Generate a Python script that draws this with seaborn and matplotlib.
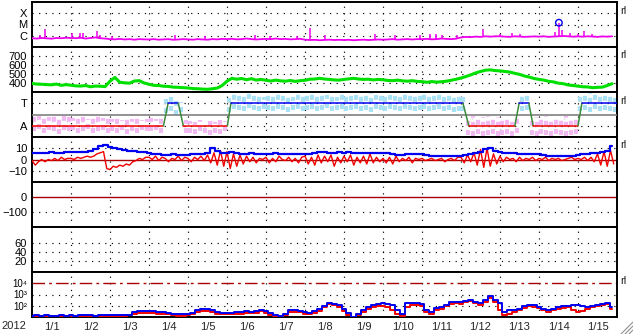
import numpy as np
import pandas as pd
import matplotlib
matplotlib.use("Agg")
import matplotlib.pyplot as plt
from matplotlib.lines import Line2D
import seaborn as sns

sns.set_style("white")
plt.rcParams['font.family'] = ['Liberation Sans', 'DejaVu Sans']
plt.rcParams['mathtext.default'] = 'regular'

# ---------------- data ----------------
day_labels = ["1/1", "1/2", "1/3", "1/4", "1/5", "1/6", "1/7", "1/8", "1/9", "1/10",
              "1/11", "1/12", "1/13", "1/14", "1/15"]
year_label = "2012"
flux_tick_labels = ["10\u00b2", "10\u00b3", "10\u2074"]

# X-ray flux, log10 W/m^2, 3-hourly background
xray_log = [-6.22, -6.25, -6.2, -6.23, -6.26, -6.2, -6.22, -6.18,
            -6.2, -6.22, -6.18, -6.25, -6.2, -6.15, -6.22, -6.25,
            -6.3, -6.32, -6.28, -6.33, -6.3, -6.35, -6.3, -6.32,
            -6.33, -6.3, -6.35, -6.32, -6.3, -6.36, -6.33, -6.3,
            -6.32, -6.35, -6.3, -6.33, -6.35, -6.3, -6.32, -6.28,
            -6.3, -6.27, -6.32, -6.3, -6.25, -6.3, -6.33, -6.3,
            -6.28, -6.3, -6.25, -6.3, -6.28, -6.32, -6.3, -6.27,
            -6.35, -6.38, -6.36, -6.4, -6.37, -6.35, -6.38, -6.36,
            -6.38, -6.36, -6.4, -6.37, -6.35, -6.38, -6.36, -6.33,
            -6.35, -6.33, -6.3, -6.35, -6.32, -6.3, -6.33, -6.3,
            -6.3, -6.28, -6.32, -6.3, -6.25, -6.28, -6.3, -6.26,
            -6.15, -6.1, -6.12, -6.08, -6.1, -6.05, -6.08, -6.05,
            -6.05, -6.08, -6.1, -6.05, -6.07, -6.1, -6.08, -6.06,
            -6.08, -6.05, -6.1, -6.07, -6.05, -6.02, -6.05, -6.08,
            -6.06, -6.08, -6.05, -6.07, -6.1, -6.06, -6.08, -6.05]
# short X-ray bursts: time (days), log10 peak, log10 foot
spike_t = [0.2, 0.33, 1.02, 1.23, 1.3, 1.66, 1.74, 2.05, 3.67, 4.44, 5.72, 6.1, 6.8,
           7.13, 7.5, 8.8, 9.3, 9.95, 10.2, 10.35, 10.5, 10.9, 11.56, 12.0, 12.31,
           12.5, 13.4, 13.51, 13.6, 13.8, 14.0, 14.15, 14.35]
spike_peak = [-5.93, -5.4, -5.78, -5.73, -5.76, -5.58, -5.93, -6.0, -5.95, -6.0, -5.95,
              -5.98, -6.0, -5.3, -5.95, -5.8, -5.95, -5.93, -5.8, -5.85, -5.9, -5.95,
              -5.43, -5.85, -5.76, -5.85, -5.67, -4.84, -5.49, -5.73, -5.8, -5.6, -5.85]
spike_foot = [-6.22, -6.22, -6.2, -6.2, -6.2, -6.2, -6.2, -6.3, -6.3, -6.3, -6.3,
              -6.3, -6.3, -6.35, -6.35, -6.35, -6.35, -6.3, -6.3, -6.3, -6.3, -6.28,
              -6.1, -6.05, -6.1, -6.1, -6.07, -6.07, -6.07, -6.05, -6.05, -6.05, -6.05]
flare_t = [13.51]
flare_peak = [-4.84]

# solar wind speed km/s, 3-hourly
speed = [395, 388, 386, 382, 380, 388, 374, 382,
         375, 368, 366, 372, 358, 366, 364, 360,
         420, 462, 408, 402, 398, 422, 426, 400,
         386, 374, 372, 364, 362, 354, 352, 348,
         345, 338, 336, 332, 330, 336, 344, 372,
         420, 452, 442, 450, 436, 448, 432, 440,
         430, 422, 432, 424, 420, 428, 418, 426,
         430, 442, 444, 452, 444, 440, 434, 432,
         440, 446, 452, 444, 440, 442, 434, 440,
         436, 428, 426, 432, 424, 420, 426, 418,
         415, 408, 416, 410, 414, 420, 430, 442,
         455, 472, 490, 512, 528, 542, 546, 538,
         535, 528, 522, 508, 496, 478, 466, 450,
         440, 432, 418, 412, 398, 392, 378, 372,
         365, 358, 356, 348, 352, 354, 372, 392]

# IMF sector polarity: state line (A = -1, T = +1)
pol_t = [0, 3.37, 3.49, 3.75, 3.88, 5.01, 5.10, 11.05, 11.2, 12.38, 12.49, 12.74,
         12.85, 14.0, 14.10, 15.0]
pol_v = [-1, -1, 1, 1, -1, -1, 1, 1, -1, -1, 1, 1, -1, -1, 1, 1]
# scatter envelope of the measured angle, 3-hourly
cloud_hi = [-0.2, -0.1, -0.3, -0.2, 0.0, -0.3, -0.1, -0.2,
            -0.3, -0.1, -0.2, -0.4, -0.2, -0.1, -0.3, -0.2,
            -0.4, -0.3, -0.5, -0.2, -0.4, -0.3, -0.5, -0.4,
            -0.3, -0.4, -0.2, 1.4, 1.6, 1.3, 1.1, -0.5,
            -0.6, -0.7, -0.5, -0.8, -0.6, -0.7, -0.5, -0.6,
            1.5, 1.8, 1.9, 1.7, 2.0, 1.8, 1.9, 1.6,
            1.8, 1.7, 1.9, 2.0, 1.8, 1.6, 1.9, 1.8,
            1.7, 1.9, 1.8, 2.0, 1.7, 1.8, 1.6, 1.9,
            1.8, 1.9, 1.7, 1.8, 2.0, 1.9, 1.7, 1.8,
            1.9, 1.7, 1.8, 1.6, 1.9, 1.8, 2.0, 1.7,
            1.8, 1.9, 1.7, 1.8, 1.6, 1.9, 1.8, 1.7,
            1.6, -0.2, -0.1, -0.3, -0.2, -0.1, -0.3, -0.2,
            -0.4, -0.2, -0.3, -0.3, 1.8, 1.9, -0.3, -0.2,
            -0.4, -0.1, -0.3, -0.2, -0.3, -0.1, -0.2, -0.3,
            1.8, 1.9, 2.0, 1.8, 1.9, 1.7, 1.9, 1.8]
cloud_lo = [-1.5, -1.3, -1.6, -1.4, -1.5, -1.7, -1.4, -1.5,
            -1.4, -1.6, -1.5, -1.3, -1.6, -1.5, -1.4, -1.6,
            -1.5, -1.6, -1.4, -1.7, -1.5, -1.6, -1.4, -1.5,
            -1.5, -1.4, -1.6, 0.1, 0.3, 0.0, 0.2, -1.6,
            -1.6, -1.7, -1.5, -1.6, -1.8, -1.6, -1.7, -1.5,
            0.2, 0.5, 0.4, 0.3, 0.6, 0.4, 0.3, 0.5,
            0.4, 0.3, 0.5, 0.4, 0.2, 0.4, 0.5, 0.3,
            0.4, 0.5, 0.3, 0.4, 0.6, 0.3, 0.4, 0.5,
            0.3, 0.4, 0.5, 0.3, 0.4, 0.2, 0.5, 0.4,
            0.3, 0.5, 0.4, 0.3, 0.5, 0.4, 0.3, 0.4,
            0.5, 0.3, 0.4, 0.5, 0.3, 0.4, 0.2, 0.3,
            0.3, -1.8, -1.9, -1.7, -1.9, -1.8, -1.7, -1.9,
            -1.8, -1.7, -1.9, -1.6, 0.3, 0.4, -1.8, -1.9,
            -1.7, -1.8, -1.9, -1.7, -1.8, -1.9, -1.8, -1.7,
            0.3, 0.4, 0.2, 0.5, 0.3, 0.4, 0.3, 0.2]

# IMF Bz (2-hourly) and Bt (3-hourly), nT
bz = [-1, -5, -2, 0, -2, 0, -1, 1, -1, 2, 0, 1,
      1, 0, 2, 1, 2, 3, 2, 3, 5, 6, 7, -8,
      -9, -6, -7, -5, -6, -4, -5, -2, -1, 1, 0, 2,
      2, 0, 3, -1, 2, 1, -2, 1, 0, 3, -1, 2,
      1, -2, 2, 0, 3, -1, 4, -3, 6, -5, 8, -6,
      7, -8, 5, -6, 4, -4, 3, -2, 2, -3, 1, 0,
      2, -3, 1, -2, 3, 0, -1, 2, -2, 1, -3, 2,
      3, -4, 2, -5, 4, -3, 3, -2, 4, -6, 2, -3,
      3, -2, 4, -5, 2, -3, 3, -4, 5, -3, 2, -2,
      1, -3, 2, -4, 3, -2, 1, -1, 2, -3, 1, 0,
      1, -1, 0, 1, -1, 0, 1, -2, 0, 1, -1, 2,
      2, -3, 4, -2, 6, -5, 9, -7, 10, -6, 5, -4,
      3, -2, 2, 0, 1, -2, 2, -1, 1, 0, 2, -1,
      1, 0, 2, -1, 1, 0, 1, -1, 0, 1, 2, 0,
      1, 0, 2, -1, 2, -2, 5, -5, 7, -6, 8, -4]
bt = [5.5, 5.8, 6, 6.2, 6.4, 6.2, 6, 6.3,
      6.5, 6.8, 7, 7, 7.5, 9, 12, 13,
      11, 10, 9, 8.5, 8, 7.5, 7, 6.5,
      5.5, 5, 4.5, 4, 4, 4.5, 4, 4,
      4, 4.5, 4.5, 5, 6, 10, 8, 6,
      6, 7, 6, 5, 5, 5.5, 5, 5,
      5, 5, 5.5, 5, 4.5, 5, 5, 5,
      5, 5, 5.5, 6.5, 6.5, 6, 6, 6.5,
      6, 6.5, 6, 6, 5.5, 6, 6, 6,
      6, 5.5, 5, 4, 4, 4.5, 5, 5,
      4.5, 4, 3.5, 3, 3, 3.5, 3, 3.5,
      3.5, 4, 5, 6, 7, 9, 10, 8,
      6.5, 6, 5.5, 5.5, 5, 5, 5, 5,
      4.5, 4, 3.5, 3, 3, 3, 3, 3.5,
      4, 4.5, 5, 5.5, 6, 7, 8, 12]

# particle flux, log10, 3-hourly (blue and red channels)
flux_blue = [1.12, 1.15, 1.12, 1.15, 1.12, 1.12, 1.15, 1.12,
             1.15, 1.12, 1.15, 1.18, 1.15, 1.12, 1.15, 1.15,
             1.15, 1.15, 1.2, 1.15, 1.2, 1.45, 1.5, 1.5,
             1.5, 1.5, 1.45, 1.45, 1.4, 1.3, 1.25, 1.25,
             1.3, 1.4, 1.6, 1.7, 1.7, 1.6, 1.45, 1.4,
             1.4, 1.4, 1.45, 1.45, 1.5, 1.47, 1.55, 1.62,
             1.5, 1.36, 1.2, 1.09, 1.3, 1.62, 1.6, 1.56,
             1.45, 1.36, 1.5, 1.71, 2.0, 2.27, 2.2, 2.07,
             1.7, 1.38, 1.03, 1.3, 1.62, 1.85, 2.07, 2.2,
             2.27, 2.2, 2.07, 1.6, 1.3, 2.24, 2.24, 2.24,
             2.2, 1.6, 1.47, 1.8, 1.92, 2.1, 2.36, 2.36,
             2.33, 2.45, 2.51, 2.35, 2.22, 2.5, 2.87, 2.5,
             2.22, 1.47, 1.62, 1.65, 1.75, 1.95, 2.1, 2.05,
             1.92, 1.75, 1.62, 1.75, 1.92, 1.95, 2.0, 2.07,
             2.07, 1.95, 1.92, 2.0, 2.1, 2.2, 2.22, 1.9]
flux_red = [1.05, 1.08, 1.05, 1.05, 1.08, 1.05, 1.05, 1.05,
            1.05, 1.05, 1.08, 1.1, 1.08, 1.05, 1.08, 1.05,
            1.1, 1.1, 1.1, 1.1, 1.15, 1.3, 1.35, 1.35,
            1.35, 1.35, 1.3, 1.3, 1.25, 1.15, 1.1, 1.1,
            1.15, 1.25, 1.45, 1.55, 1.55, 1.45, 1.3, 1.25,
            1.25, 1.25, 1.3, 1.3, 1.35, 1.36, 1.4, 1.5,
            1.35, 1.2, 1.08, 1.03, 1.15, 1.45, 1.45, 1.42,
            1.3, 1.25, 1.35, 1.55, 1.85, 2.15, 2.05, 1.9,
            1.55, 1.2, 1.0, 1.15, 1.45, 1.7, 1.9, 2.0,
            1.95, 1.9, 1.6, 1.3, 1.1, 1.9, 2.1, 2.1,
            2.0, 1.45, 1.3, 1.6, 1.75, 1.95, 2.2, 2.25,
            2.2, 2.3, 2.4, 2.25, 2.1, 2.35, 2.66, 2.3,
            1.6, 1.15, 1.3, 1.45, 1.6, 1.8, 1.95, 1.9,
            1.8, 1.6, 1.45, 1.6, 1.75, 1.8, 1.85, 1.6,
            1.45, 1.5, 1.75, 1.85, 1.95, 2.1, 2.15, 1.7]

# ---------------- figure ----------------
W, H = 633, 334
fig = plt.figure(figsize=(W / 100, H / 100), dpi=100)
fig.patch.set_facecolor("white")

t3 = np.arange(len(speed)) / 8.0
t2 = np.arange(len(bz)) / 12.0

MAG = "#ee00ee"
GRN = "#00e000"
BLU = "#0000f0"
RED = "#f00000"
DRED = "#a80000"
FS = 8
DOT = (0, (1, 4.6))

left = 32 / W
width = 585 / W
tops = [2, 47, 92, 137, 182, 227, 272]
axes = []
for top in tops:
    ax = fig.add_axes([left, 1 - (top + 45) / H, width, 45 / H])
    ax.set_xlim(0, 15)
    ax.set_facecolor("white")
    for s in ax.spines.values():
        s.set_color("black")
        s.set_linewidth(1.4)
    ax.tick_params(axis="both", length=0, labelsize=FS, pad=3.5, colors="black")
    ax.set_xticks(np.arange(1, 15))
    ax.set_xticklabels([])
    for d in range(1, 15):
        ax.axvline(d, color="black", lw=0.85, ls=DOT, zorder=1)
    axes.append(ax)


def hdot(ax, y):
    ax.axhline(y, color="black", lw=0.85, ls=DOT, zorder=1)


def rl(top):
    fig.text(620 / W, 1 - (top + 8.5) / H, "rl", fontsize=FS, ha="left", va="center")


# Panel 1: X-ray
ax = axes[0]
ax.set_yscale("log")
ax.set_ylim(1e-7, 1e-3)
ax.minorticks_off()
ax.set_yticks([1e-6, 1e-5, 1e-4])
ax.set_yticklabels(["C", "M", "X"])
for y in [1e-6, 1e-5, 1e-4]:
    hdot(ax, y)
df_x = pd.DataFrame({"t": t3, "flux": np.power(10.0, xray_log)})
sns.lineplot(data=df_x, x="t", y="flux", color=MAG, lw=1.3, ax=ax, zorder=3)
ax.vlines(spike_t, np.power(10.0, spike_foot), np.power(10.0, spike_peak), color=MAG, lw=1.1, zorder=3)
ax.scatter(flare_t, np.power(10.0, flare_peak), s=22, facecolors="none", edgecolors=BLU, linewidths=1.0, zorder=4)
ax.set_xlabel(""); ax.set_ylabel("")
rl(tops[0])

# Panel 2: solar wind speed
ax = axes[1]
ax.set_ylim(300, 800)
ax.set_yticks([400, 500, 600, 700])
for y in [400, 500, 600, 700]:
    hdot(ax, y)
df_v = pd.DataFrame({"t": t3, "v": speed})
sns.lineplot(data=df_v, x="t", y="v", color=GRN, lw=2.2, ax=ax, zorder=3)
ax.set_xlabel(""); ax.set_ylabel("")
rl(tops[1])

# Panel 3: sector polarity
ax = axes[2]
ax.set_ylim(-2, 2)
ax.set_yticks([1, -1])
ax.set_yticklabels(["T", "A"])
chi = np.array(cloud_hi); clo = np.array(cloud_lo)
is_t = (chi + clo) > 0
speck = (0, (1.2, 1.0))
ax.vlines(t3[is_t] + 1 / 16, clo[is_t], chi[is_t], color="#a8e2f6", lw=3.0, linestyles=speck, zorder=2)
ax.vlines(t3[~is_t] + 1 / 16, clo[~is_t], chi[~is_t], color="#f4b8f4", lw=3.0, linestyles=speck, zorder=2)
ax.vlines(t3 + 0.02, clo + 0.25, chi - 0.25, color="#d0d0d0", lw=1.0, linestyles=(0, (1, 4)), zorder=2)
ax.axhline(0, color="#808080", lw=1.2, zorder=3)
for y in [1, -1]:
    hdot(ax, y)
for i in range(len(pol_t) - 1):
    a, b = pol_v[i], pol_v[i + 1]
    c = RED if (a < 0 and b < 0) else (BLU if (a > 0 and b > 0) else "#3a8a3a")
    sns.lineplot(x=[pol_t[i], pol_t[i + 1]], y=[a, b], color=c, lw=1.1, ax=ax, zorder=4)
ax.set_xlabel(""); ax.set_ylabel("")
rl(tops[2])

# Panel 4: IMF
ax = axes[3]
ax.set_ylim(-20, 20)
ax.set_yticks([10, 0, -10])
for y in [10, -10]:
    hdot(ax, y)
ax.axhline(0, color=DRED, lw=1.0, zorder=2)
sns.lineplot(x=t2, y=bz, color=RED, lw=1.0, ax=ax, zorder=3)
sns.lineplot(x=t3, y=bt, color=BLU, lw=1.6, ax=ax, zorder=4, drawstyle="steps-mid")
ax.set_xlabel(""); ax.set_ylabel("")
rl(tops[3])

# Panel 5: Dst
ax = axes[4]
ax.set_ylim(-200, 100)
ax.set_yticks([0, -100])
hdot(ax, -100)
ax.axhline(0, color=DRED, lw=1.0, zorder=2)

# Panel 6
ax = axes[5]
ax.set_ylim(-5, 95)
ax.set_yticks([60, 40, 20])
for y in [20, 40, 60]:
    hdot(ax, y)

# Panel 7: particle flux
ax = axes[6]
ax.set_yscale("log")
ax.set_ylim(10, 1e5)
ax.minorticks_off()
ax.set_yticks([1e2, 1e3, 1e4])
ax.set_yticklabels(flux_tick_labels)
ax.tick_params(axis="y", labelsize=7)
for y in [1e2, 1e3]:
    hdot(ax, y)
ax.axhline(1e4, color=DRED, lw=1.0, ls=(0, (9, 3, 2, 3)), zorder=2)
sns.lineplot(x=t3, y=np.power(10.0, flux_red), color=RED, lw=1.4, ax=ax, zorder=3, drawstyle="steps-mid")
sns.lineplot(x=t3, y=np.power(10.0, flux_blue), color=BLU, lw=1.4, ax=ax, zorder=4, drawstyle="steps-mid")
ax.set_xlabel(""); ax.set_ylabel("")
ax.set_xticks(np.arange(15) + 0.5, minor=True)
ax.set_xticklabels(day_labels, minor=True)
ax.tick_params(axis="x", which="minor", length=0, labelsize=FS, pad=3.5)
rl(tops[6])

fig.text(14 / W, 1 - 326 / H, year_label, fontsize=FS, ha="center", va="center")

# window resize grip
for k in [4, 8, 12]:
    fig.add_artist(Line2D([(W - k) / W, 1.0], [0.0, k / H], color="#909090", lw=0.8,
                          transform=fig.transFigure))

fig.savefig("out.png", dpi=100, facecolor="white")
